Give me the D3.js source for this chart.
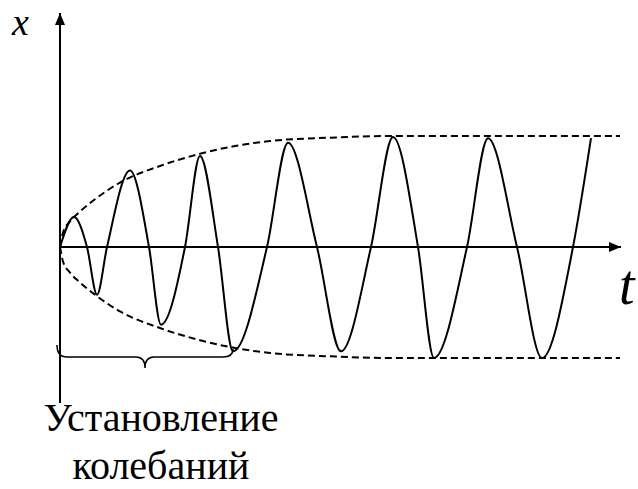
<!DOCTYPE html>
<html>
<head>
<meta charset="utf-8">
<script src="https://cdn.jsdelivr.net/npm/d3@7"></script>
</head>
<body style="margin:0">
<div id="chart"></div>
<script>
// oscillation: time and displacement at extrema and zero crossings
var tValues = [0, 14, 27, 37, 47, 70, 89, 101, 125, 140, 158, 173, 207, 228, 257, 281, 311, 333, 358, 374, 407, 428, 457, 482, 513, 531];
var xValues = [0, 0.27, 0, -0.43, 0, 0.69, 0, -0.70, 0, 0.82, 0, -0.94, 0, 0.94, 0, -0.94, 0, 0.99, 0, -1.0, 0, 0.98, 0, -1.0, 0, 0.98];

// envelope (amplitude) growing to a steady value
var envT = [0, 3, 10, 20, 35, 60, 100, 140, 175, 210, 270, 330, 560];
var envA = [0, 0.13, 0.23, 0.32, 0.43, 0.58, 0.73, 0.84, 0.91, 0.955, 0.985, 1.0, 1.0];

// settling interval marked by the brace
var settleStart = 0, settleEnd = 173;

var axisLabels = ['x', 't'];
var captionLines = ['Установление', 'колебаний'];

var width = 638, height = 489;
var origin = { x: 60, y: 247 };

var svg = d3.select('#chart')
  .append('svg')
  .attr('width', width)
  .attr('height', height);

var xs = d3.scaleLinear().domain([0, 560]).range([origin.x, origin.x + 560]);
var ys = d3.scaleLinear().domain([-1, 1]).range([origin.y + 111, origin.y - 111]);

svg.append('defs').append('marker')
  .attr('id', 'arrow')
  .attr('viewBox', '0 0 12 10')
  .attr('refX', 12).attr('refY', 5)
  .attr('markerWidth', 12).attr('markerHeight', 10)
  .attr('markerUnits', 'userSpaceOnUse')
  .attr('orient', 'auto')
  .append('path')
  .attr('d', 'M0,0 L12,5 L0,10 Z')
  .attr('fill', '#000');

// axes
svg.append('line')
  .attr('x1', origin.x).attr('y1', 403)
  .attr('x2', origin.x).attr('y2', 13)
  .attr('stroke', '#000').attr('stroke-width', 2)
  .attr('marker-end', 'url(#arrow)');

svg.append('line')
  .attr('x1', origin.x).attr('y1', origin.y)
  .attr('x2', 621).attr('y2', origin.y)
  .attr('stroke', '#000').attr('stroke-width', 2)
  .attr('marker-end', 'url(#arrow)');

// envelope
var env = envT.map((t, i) => ({ t: t, a: envA[i] }));
[1, -1].forEach(s => {
  svg.append('path')
    .datum(env)
    .attr('d', d3.line().x(d => xs(d.t)).y(d => ys(s * d.a)).curve(d3.curveMonotoneX))
    .attr('fill', 'none')
    .attr('stroke', '#000')
    .attr('stroke-width', 2)
    .attr('stroke-dasharray', '7,4');
});

// oscillation
var osc = tValues.map((t, i) => ({ t: t, x: xValues[i] }));
svg.append('path')
  .datum(osc)
  .attr('d', d3.line().x(d => xs(d.t)).y(d => ys(d.x)).curve(d3.curveMonotoneX))
  .attr('fill', 'none')
  .attr('stroke', '#000')
  .attr('stroke-width', 2);

// brace
var bx0 = xs(settleStart) - 3, bx1 = xs(settleEnd), bm = (bx0 + bx1) / 2;
var by = 357, bTop = 345, tip = 368;
svg.append('path')
  .attr('d', 'M' + bx0 + ',' + bTop +
    ' Q' + bx0 + ',' + by + ' ' + (bx0 + 10) + ',' + by +
    ' L' + (bm - 9) + ',' + by +
    ' Q' + bm + ',' + by + ' ' + bm + ',' + tip +
    ' Q' + bm + ',' + by + ' ' + (bm + 9) + ',' + by +
    ' L' + (bx1 - 10) + ',' + by +
    ' Q' + bx1 + ',' + by + ' ' + bx1 + ',' + (bTop + 4))
  .attr('fill', 'none')
  .attr('stroke', '#000')
  .attr('stroke-width', 1.5);

// axis letters
svg.selectAll('text.axis')
  .data(axisLabels)
  .enter().append('text')
  .attr('class', 'axis')
  .attr('x', (d, i) => i ? 619 : 12)
  .attr('y', (d, i) => i ? 304 : 35)
  .attr('font-family', 'Liberation Serif, Times New Roman, serif')
  .attr('font-style', 'italic')
  .attr('font-size', (d, i) => i ? 56 : 38)
  .text(d => d);

// caption
svg.selectAll('text.caption')
  .data(captionLines)
  .enter().append('text')
  .attr('class', 'caption')
  .attr('x', 161)
  .attr('y', (d, i) => 431 + i * 48)
  .attr('text-anchor', 'middle')
  .attr('font-family', 'Liberation Serif, Times New Roman, serif')
  .attr('font-size', 40)
  .text(d => d);
</script>
</body>
</html>
